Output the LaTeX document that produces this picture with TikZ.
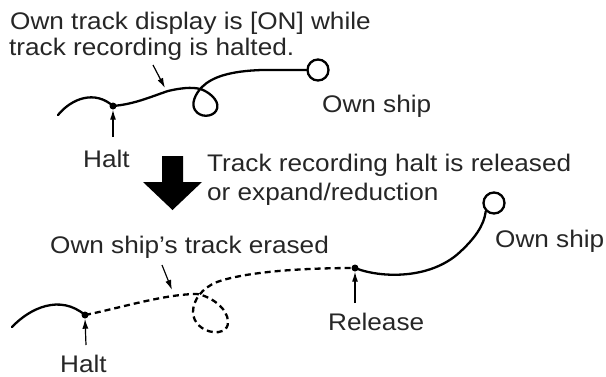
\documentclass[tikz,border=0pt]{standalone}
\usepackage{fontspec}
\setmainfont{Liberation Sans}[FakeStretch=1.09]
\usetikzlibrary{arrows.meta}
\tikzset{
  lbl/.style={anchor=base west, inner sep=0pt, font=\fontsize{24}{26}\selectfont, text=black!85},
  track/.style={line width=2.3pt, line cap=round},
  erased/.style={line width=2.3pt, dash pattern=on 6pt off 4pt},
  ptr/.style={line width=1.2pt, -{Latex[length=10pt,width=6pt]}},
  dotnode/.style={circle, fill=black, inner sep=0pt, minimum size=7pt},
  ship/.style={circle, draw, line width=2.3pt, inner sep=0pt, minimum size=21pt},
}
\begin{document}
\begin{tikzpicture}[x=1pt,y=-1pt]
\useasboundingbox (0,0) rectangle (606,376);
% texts
\node[lbl] (t1a) at (10,29) {Own track display is [ON] while};
\node[lbl] (t1b) at (9,55) {track recording is halted.};
\node[lbl] (shipAlbl) at (322,112) {Own ship};
\node[lbl] (haltAlbl) at (83,167) {Halt};
\node[lbl] (t2a) at (207,171) {Track recording halt is released};
\node[lbl] (t2b) at (207,200) {or expand/reduction};
\node[lbl] (t3) at (50,253) {Own ship’s track erased};
\node[lbl] (shipBlbl) at (495,247) {Own ship};
\node[lbl] (relLbl) at (328,330) {Release};
\node[lbl] (haltBlbl) at (60,372) {Halt};

% top track
\node[dotnode] (haltA) at (113,106) {};
\node[ship] (shipA) at (318,70) {};
\coordinate (startA) at (58,115);
\draw[track] (startA) .. controls (72,98) and (95,90) .. (haltA.center);
\draw[track] (haltA.center) .. controls (135,104) and (150,97) .. (168,91)
  .. controls (185,87) and (196,87) .. (203,90)
  .. controls (212,94) and (221,103) .. (216,111)
  .. controls (212,117) and (200,118) .. (195,110)
  .. controls (191,104) and (195,94) .. (202,87)
  .. controls (212,77) and (230,71) .. (262,70) -- (shipA.west);
\coordinate (arrA) at (153,65);
\coordinate (arrAt) at (165,88);
\draw[ptr] (arrA) -- (arrAt);
\coordinate (haltAfoot) at (113,137);
\draw[ptr] (haltAfoot) -- (haltA.south);

% big arrow
\fill[black] (162,156) -- (183,156) -- (183,182) -- (202,182) -- (172.5,210) -- (143,182) -- (162,182) -- cycle;

% bottom track
\node[dotnode] (haltB) at (85,315) {};
\node[dotnode] (rel) at (355,268) {};
\node[ship] (shipB) at (494,203) {};
\coordinate (startB) at (12,327);
\draw[track] (startB) .. controls (30,308) and (60,294) .. (haltB.center);
\draw[erased] (haltB.center) .. controls (120,308) and (165,294) .. (197,294)
  .. controls (210,296) and (228,308) .. (228,322)
  .. controls (228,331) and (220,333) .. (213,332)
  .. controls (203,331) and (193,323) .. (193,312)
  .. controls (193,300) and (202,288) .. (217,282)
  .. controls (245,272) and (300,268) .. (rel.center);
\draw[track] (rel.center) .. controls (380,278) and (430,280) .. (460,252)
  .. controls (474,239) and (484,226) .. (shipB.south west);
\coordinate (arrB) at (162,265);
\coordinate (arrBt) at (172,290);
\draw[ptr] (arrB) -- (arrBt);
\coordinate (haltBfoot) at (86,345);
\draw[ptr] (haltBfoot) -- (haltB.south);
\coordinate (relfoot) at (355,303);
\draw[ptr] (relfoot) -- (rel.south);
\end{tikzpicture}
\end{document}
